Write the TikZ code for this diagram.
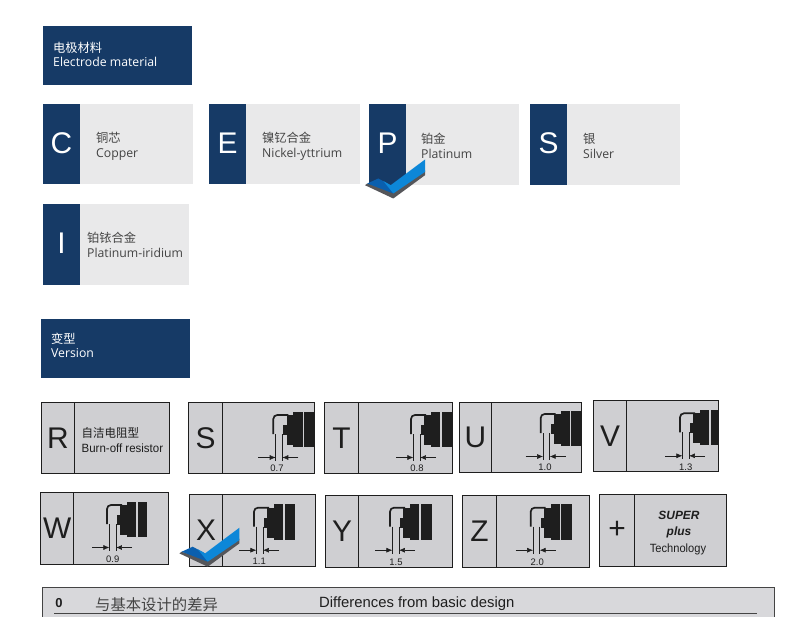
\documentclass[tikz,border=0pt]{standalone}
\usepackage{fontspec}
\usetikzlibrary{arrows.meta}
\setmainfont{Liberation Sans}
\newfontfamily\cjkfont{Noto Sans CJK SC}
\newfontfamily\uifont{Open Sans}
\definecolor{navy}{HTML}{163A66}
\definecolor{tilegray}{HTML}{E9E9EA}
\definecolor{cardgray}{HTML}{CFCFD2}
\definecolor{inkgray}{HTML}{444444}
\definecolor{inkdark}{HTML}{1E1E1E}
\definecolor{tickblue}{HTML}{0D87D8}
\definecolor{tickdeep}{HTML}{0A5FAE}
\definecolor{tickshade}{HTML}{55565A}
\tikzset{
    headtext/.style={anchor=west,inner sep=0pt,align=left,text=white,font=\uifont\fontsize{12.3}{14.5}\selectfont},
    tileletter/.style={inner sep=0pt,text=white,font=\fontsize{30}{30}\selectfont},
    tiletext/.style={anchor=west,inner sep=0pt,align=left,text=inkgray,font=\uifont\fontsize{12.3}{15}\selectfont},
    gapcard/.style={draw=inkdark,line width=0.8pt,fill=cardgray},
    cardletter/.style={inner sep=0pt,text=inkdark,font=\fontsize{30}{30}\selectfont},
    cardtext/.style={inner sep=0pt,text=inkdark,font=\fontsize{12}{15.5}\selectfont},
    gaplabel/.style={inner sep=0pt,text=inkdark,font=\fontsize{9.5}{10}\selectfont},
    gaparrow/.style={-{Latex[length=6pt,width=5pt]},inkdark,line width=0.6pt},
    pics/tickmark/.style={code={
        \fill[tickshade] (-2.3,1.7) -- (0,0) -- (26,8) -- (57.7,-13) -- (57.7,-8.3) -- (26,15) -- cycle;
        \fill[tickdeep] (0,0) -- (11,-5) -- (23.4,1.7) -- (26,10) -- cycle;
        \fill[tickblue] (16,-2.5) -- (23.4,1.7) -- (57.7,-24) -- (57.7,-11.6) -- (26,10) -- cycle;
    }},
    pics/electrode/.style={code={
        \draw[inkdark,line width=1.7pt,rounded corners=4pt] (0,19) -- (0,0) -- (15,0);
        \fill[inkdark] (10,10) rectangle (14,20);
        \fill[inkdark] (13.4,0) rectangle (20,30);
        \fill[inkdark] (20,-3.5) rectangle (29.4,32);
        \fill[inkdark] (30.7,-3.5) rectangle (#1,32);
        \draw[inkdark,line width=0.6pt] (2.4,19) -- (2.4,46);
        \draw[inkdark,line width=0.6pt] (9,19) -- (9,46);
        \draw[gaparrow] (-15,42.5) -- (2.4,42.5);
        \draw[gaparrow] (25,42.5) -- (9,42.5);
    }},
}
\begin{document}
\begin{tikzpicture}[x=1bp,y=-1bp]
    \clip (0,0) rectangle (790,617);
    % electrode material
    \fill[navy] (43,26) rectangle (192,85);
    \node[headtext] (headmaterial) at (53,54.5) {{\cjkfont 电极材料}\\Electrode material};
    \foreach \tag/\xa/\xb/\xc/\ya/\yb/\tx/\ty/\zh/\en in {
        C/43/80/193/104/184/96/146/铜芯/Copper,
        E/209/246/360/104/184/262/146/镍钇合金/Nickel-yttrium,
        P/369/406/519/104/185/421/145.5/铂金/Platinum,
        S/530/567/680/104/185/583/145.5/银/Silver,
        I/43/80/189/204/285/87/244.5/铂铱合金/Platinum-iridium}
    {
        \fill[tilegray] (\xb,\ya) rectangle (\xc,\yb);
        \fill[navy] (\xa,\ya) rectangle (\xb,\yb);
        \node[tileletter] (tile\tag) at ({(\xa+\xb)/2},{(\ya+\yb)/2-1}) {\tag};
        \node[tiletext] (text\tag) at (\tx,\ty) {{\cjkfont \zh}\\\en};
    }
    \pic at (367.3,183.5) {tickmark};
    % version
    \fill[navy] (41,319) rectangle (190,378);
    \node[headtext] (headversion) at (51,345.5) {{\cjkfont 变型}\\Version};
    \foreach \tag/\xa/\xb/\xc/\ya/\yb in {
        R/41/74/169.5/402/473.5, S/188/222/314.5/402/473.5, T/324/358/452.5/402/473.5,
        U/459/491/581.5/402/472.5, V/593/626/718.5/400/471.5, W/40/73.5/168.5/492/564.5,
        X/189/222/315.5/494/566.5, Y/325/358/452.5/495/567.5, Z/462/496/589.5/495/567.5,
        +/599/634/726.5/494/566.5}
    {
        \draw[gapcard] (\xa,\ya) rectangle (\xc,\yb);
        \draw[inkdark,line width=0.8pt] (\xb,\ya) -- (\xb,\yb);
        \node[cardletter] (card\tag) at ({(\xa+\xb)/2+0.5},{(\ya+\yb)/2}) {\tag};
    }
    \node[cardtext,anchor=west,align=left,xscale=0.96] (textR) at (81.5,440) {{\cjkfont 自洁电阻型}\\Burn-off resistor};
    \node[cardtext] (textsuper) at (679,515.5) {\bfseries\itshape SUPER};
    \node[cardtext] (textplus) at (679,532.5) {\bfseries\itshape plus};
    \node[cardtext,xscale=0.93] (texttech) at (678,549) {Technology};
    \foreach \hx/\hy/\gx/\gy/\be/\val in {
        273.3/415/277/468/41/0.7, 411/415/417/468.5/41/0.8, 540.7/414/545/467.5/41/1.0,
        680/413.3/685.7/467/38.5/1.3, 107/505/112.7/559/40/0.9, 254/507.7/259.3/561/41/1.1,
        390/507.7/396/562/42/1.5, 530.7/507.7/537.3/562/41/2.0}
    {
        \pic at (\hx,\hy) {electrode=\be};
        \node[gaplabel] (gap\val) at (\gx,\gy) {\val};
    }
    \pic at (181.7,551.7) {tickmark};
    % differences
    \fill[cardgray!80!white] (42,587) rectangle (774,620);
    \draw[inkgray,line width=0.8pt] (42,620) -- (42,587) -- (774,587) -- (774,620);
    \draw[inkgray,line width=1pt] (54,613) -- (757,613);
    \node[inner sep=0pt,text=inkdark,font=\bfseries\fontsize{13}{14}\selectfont] (code0) at (59,603) {0};
    \node[anchor=west,inner sep=0pt,text=inkgray,font=\cjkfont\fontsize{15.4}{17}\selectfont] (diffzh) at (95,605) {与基本设计的差异};
    \node[anchor=west,inner sep=0pt,text=inkdark,font=\fontsize{14.9}{17}\selectfont] (diffen) at (319,604) {Differences from basic design};
\end{tikzpicture}
\end{document}
